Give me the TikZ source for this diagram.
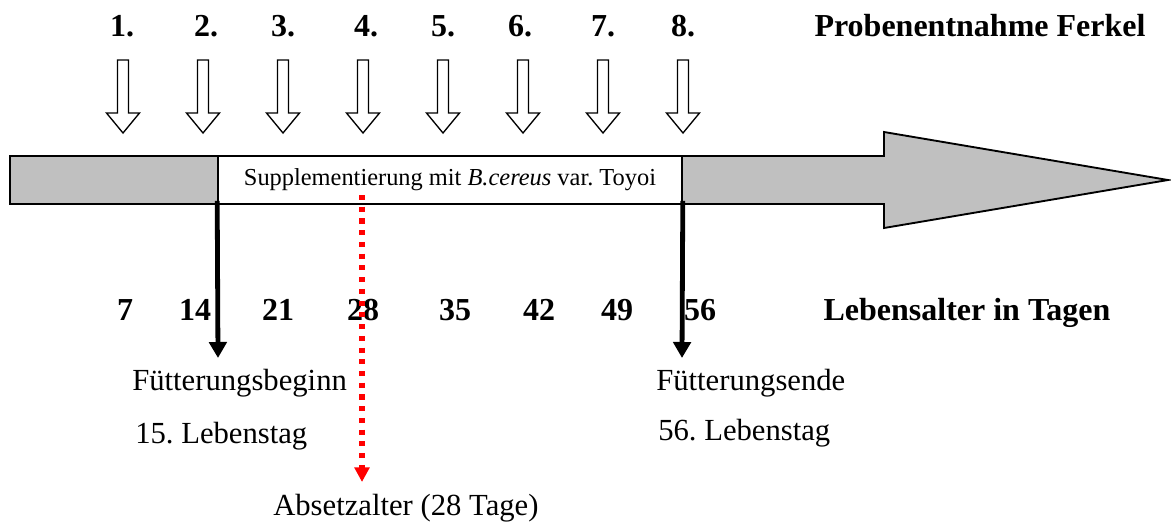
\documentclass[tikz,border=0pt]{standalone}
\usepackage{fontspec}
\setmainfont{Liberation Serif}
\usetikzlibrary{arrows.meta}
\frenchspacing

\definecolor{axisgray}{RGB}{192,192,192}

\tikzset{
  bignum/.style={font=\fontsize{24}{26}\selectfont\bfseries, anchor=base},
  plain/.style={font=\fontsize{23}{25}\selectfont, anchor=base west, inner sep=0pt},
  feedarrow/.style={line width=3.6pt, -{Triangle[width=13pt,length=12pt]}},
  weanarrow/.style={red, line width=3.8pt, dash pattern=on 3.8pt off 5pt,
    -{Triangle[width=11pt,length=11pt]}},
}

\begin{document}
\begin{tikzpicture}[x=0.75pt,y=-0.75pt]

  \useasboundingbox (0,0) rectangle (1171,522);

  % time axis
  \draw[line width=1.4pt, fill=axisgray]
    (10,156) -- (884,156) -- (884,132) -- (1168,180) -- (884,228)
    -- (884,204) -- (10,204) -- cycle;
  \node[draw, fill=white, line width=1.2pt, inner sep=0pt,
        minimum width=348pt, minimum height=36pt,
        font=\fontsize{18.3}{20}\selectfont] (supp) at (450,180)
    {Supplementierung mit \textit{B.cereus} var. Toyoi};

  % sampling points
  \foreach \x in {123,203,283,363,443,523,603,683}
    \draw[line width=1pt]
      (\x-5.5,60) -- (\x+5.5,60) -- (\x+5.5,113) -- (\x+16.5,113)
      -- (\x,133) -- (\x-16.5,113) -- (\x-5.5,113) -- cycle;

  \begin{scope}[every node/.style={bignum}]
    \foreach \n/\x in {1/122,2/206,3/283,4/366,5/443,6/520,7/603,8/683}
      \node (s\n) at (\x,36) {\n.};
    \foreach \d/\x in {7/125,14/195,21/278,28/363,35/455,42/539,49/617,56/700}
      \node (d\d) at (\x,320) {\d};
    \node (probe) at (980,36) {Probenentnahme Ferkel};
    \node (alter) at (967,320) {Lebensalter in Tagen};
  \end{scope}

  \begin{scope}[every node/.style={plain}]
    \node (start) at (132,390) {Fütterungsbeginn};
    \node (startday) at (135,443) {15. Lebenstag};
    \node (stop) at (656,390) {Fütterungsende};
    \node (stopday) at (658,440) {56. Lebenstag};
    \node (wean) at (273,515) {Absetzalter (28 Tage)};
  \end{scope}

  \coordinate (startend) at (218,358);
  \coordinate (stopend) at (682,358);
  \coordinate (weantop) at (362,195);
  \coordinate (weanend) at (362,482);

  \draw[feedarrow] ([yshift=3pt]supp.south west) -- (startend);
  \draw[feedarrow] ([yshift=3pt]supp.south east) -- (stopend);
  \draw[weanarrow] (weantop) -- (weanend);

\end{tikzpicture}
\end{document}
